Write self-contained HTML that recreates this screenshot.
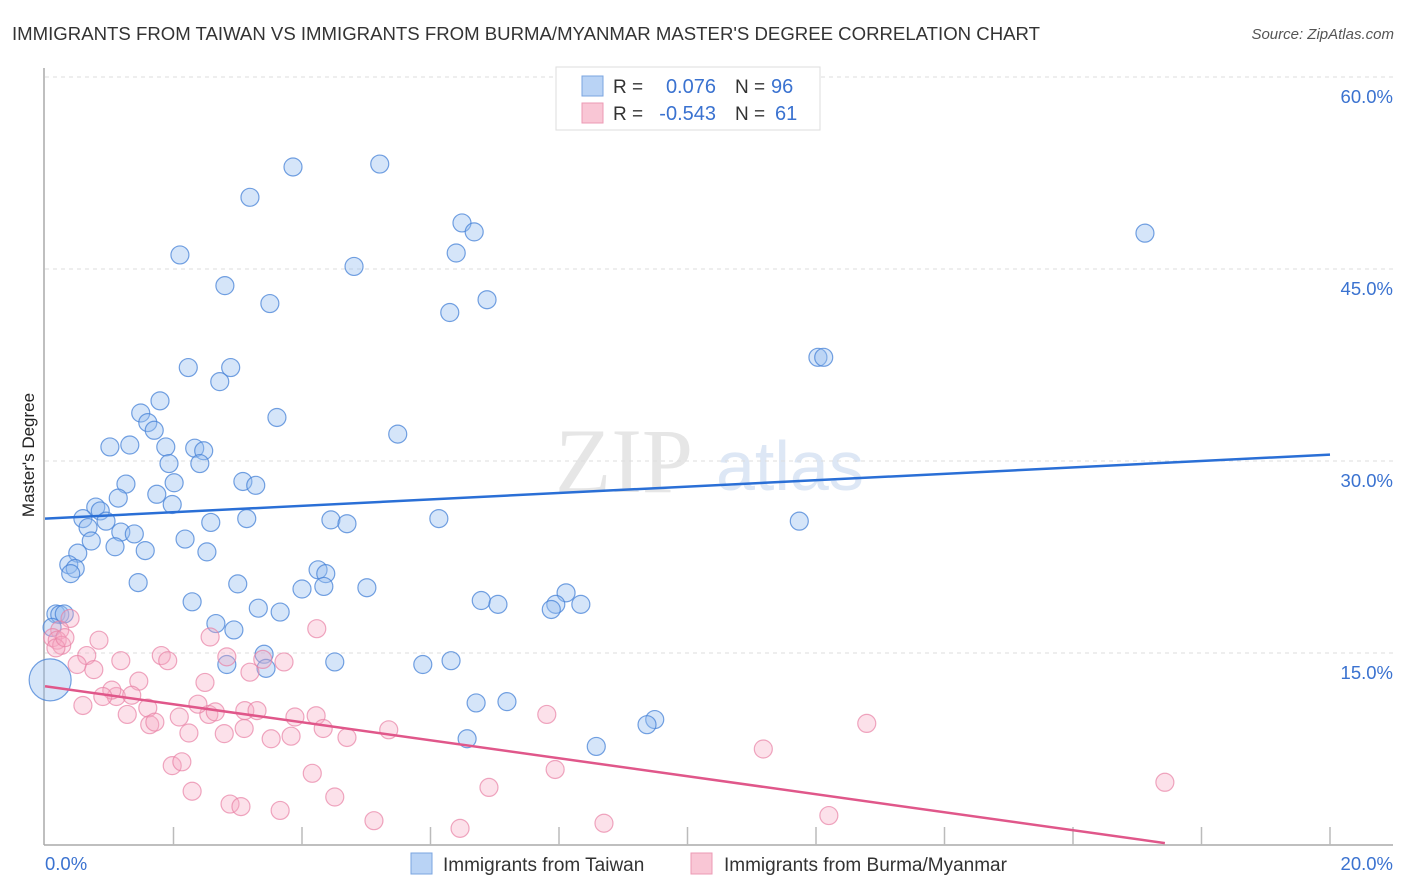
<!DOCTYPE html>
<html><head><meta charset="utf-8"><style>
body{margin:0;background:#fff;font-family:"Liberation Sans",sans-serif;}
#wrap{position:relative;width:1406px;height:892px;overflow:hidden;}
</style></head><body>
<div id="wrap">
<svg id="chart" width="1406" height="892" xmlns="http://www.w3.org/2000/svg">
<text x="12" y="40" font-size="18.6" fill="#333">IMMIGRANTS FROM TAIWAN VS IMMIGRANTS FROM BURMA/MYANMAR MASTER'S DEGREE CORRELATION CHART</text>
<text x="1394" y="39" font-size="15" fill="#555" font-style="italic" text-anchor="end">Source: ZipAtlas.com</text>
<text x="34" y="455" font-size="17" fill="#222" text-anchor="middle" transform="rotate(-90 34 455)">Master's Degree</text>
<g><text x="555" y="492" font-size="92" fill="#e6e6e6" font-family="Liberation Serif,serif">ZIP</text><text x="716" y="490" font-size="70" fill="#dde7f5">atlas</text></g>
<g id="grid"></g><g id="axes"></g><g id="pts"></g><g id="trend"></g>
<g>
<rect x="556" y="67" width="264" height="63" fill="#fff" stroke="#ddd"/>
<rect x="582" y="76" width="21" height="20" fill="#b9d3f5" stroke="#7aa5e0"/>
<rect x="582" y="103" width="21" height="20" fill="#f9c6d5" stroke="#ec9ab4"/>
<text x="613" y="93" font-size="19" fill="#333">R =</text><text x="716" y="93" font-size="20" fill="#3a72d0" text-anchor="end">0.076</text>
<text x="735" y="93" font-size="19" fill="#333">N =</text><text x="771" y="93" font-size="20" fill="#3a72d0">96</text>
<text x="613" y="120" font-size="19" fill="#333">R =</text><text x="716" y="120" font-size="20" fill="#3a72d0" text-anchor="end">-0.543</text>
<text x="735" y="120" font-size="19" fill="#333">N =</text><text x="775" y="120" font-size="20" fill="#3a72d0">61</text>
</g>
<g>
<rect x="411" y="853" width="21" height="21" fill="#b9d3f5" stroke="#7aa5e0"/>
<text x="443" y="871" font-size="19" fill="#333">Immigrants from Taiwan</text>
<rect x="691" y="853" width="21" height="21" fill="#f9c6d5" stroke="#ec9ab4"/>
<text x="724" y="871" font-size="19" fill="#333">Immigrants from Burma/Myanmar</text>
</g>
</svg>
</div>
<script>
const yTicks=[15,30,45,60];
const yTickLabels=["15.0%","30.0%","45.0%","60.0%"];
const xTickLabels=["0.0%","20.0%"];
const taiwanX=[3.86,5.21,3.19,6.49,6.68,17.12,2.10,6.40,4.81,2.80,3.50,6.88,6.30,12.03,12.12,2.23,2.89,2.72,1.79,1.49,3.61,1.60,1.70,5.49,1.01,1.32,1.88,2.33,2.47,1.93,2.41,3.08,3.28,1.26,2.01,1.14,1.74,1.98,0.79,0.86,0.59,0.95,3.14,2.58,4.45,4.70,6.13,11.74,0.67,1.18,1.39,0.72,2.18,1.09,1.56,2.52,0.51,0.37,0.47,0.40,3.00,4.25,4.37,1.45,4.00,4.34,5.01,2.29,3.32,3.66,6.79,7.05,8.11,7.95,7.88,8.34,2.66,2.94,0.17,0.23,0.30,3.41,2.83,3.44,4.51,5.88,6.32,6.71,7.19,9.49,9.37,6.57,8.58,0.11,0.08];
const taiwanY=[52.97,53.2,50.6,48.6,47.9,47.8,46.1,46.25,45.2,43.7,42.3,42.6,41.6,38.1,38.1,37.3,37.3,36.2,34.7,33.75,33.4,33.0,32.4,32.1,31.1,31.25,31.1,31.0,30.8,29.8,29.8,28.4,28.1,28.2,28.3,27.1,27.4,26.6,26.4,26.1,25.5,25.3,25.5,25.2,25.4,25.1,25.5,25.3,24.8,24.45,24.3,23.75,23.9,23.3,23.0,22.9,22.8,21.9,21.6,21.2,20.4,21.5,21.2,20.5,20.0,20.2,20.1,19.0,18.5,18.2,19.1,18.8,19.7,18.8,18.4,18.8,17.3,16.8,18.05,18.0,18.05,14.9,14.1,13.8,14.3,14.1,14.4,11.1,11.2,9.8,9.4,8.3,7.7,17.0,12.9];
const burmaX=[0.39,0.23,0.12,0.19,0.26,0.17,0.31,0.84,0.65,1.18,1.81,1.91,2.83,3.72,3.39,0.50,0.76,1.11,1.46,1.04,1.35,0.90,0.59,1.28,1.60,2.09,1.63,1.71,2.24,2.55,2.65,2.38,3.11,3.30,3.89,4.22,4.33,4.70,5.35,2.79,3.10,3.52,3.83,1.98,2.13,2.29,2.88,3.05,3.66,4.16,4.51,5.12,6.46,6.91,7.94,8.70,7.81,11.18,12.79,17.43,12.20,2.57,4.23,2.49,3.19];
const burmaY=[17.7,16.8,16.2,16.0,15.6,15.4,16.2,16.0,14.8,14.4,14.8,14.4,14.7,14.3,14.5,14.1,13.7,11.6,12.8,12.1,11.7,11.6,10.9,10.2,10.7,10.0,9.4,9.6,8.75,10.2,10.4,11.0,10.5,10.5,10.0,10.1,9.1,8.4,9.0,8.7,9.1,8.3,8.5,6.2,6.5,4.2,3.2,3.0,2.7,5.6,3.75,1.9,1.3,4.5,5.9,1.7,10.2,7.5,9.5,4.9,2.3,16.25,16.9,12.7,13.5];
const taiwanTrend=[25.5,30.5];
const burmaTrend=[12.4,0.15];
const burmaTrendEndX=17.43;
const NS="http://www.w3.org/2000/svg";
const X=v=>45+v*64.25, Y=v=>845-v*12.8;
function mk(t,a,p){const e=document.createElementNS(NS,t);for(const k in a)e.setAttribute(k,a[k]);p.appendChild(e);return e;}
const grid=document.getElementById('grid'),axes=document.getElementById('axes'),pts=document.getElementById('pts'),tr=document.getElementById('trend');
yTicks.forEach((t,i)=>{
 const l=mk('line',{x1:45,x2:1393,y1:Y(t),y2:Y(t),stroke:'#ddd','stroke-dasharray':'4,4'},grid);
 
 
 const tx=mk('text',{x:1393,y:Y(t)+26,'font-size':18.5,fill:'#3a72d0','text-anchor':'end'},axes);
 tx.textContent=yTickLabels[i];
 
 
});
const yl=mk('line',{x1:44,x2:44,y1:68,y2:845,stroke:'#aaa','stroke-width':1.5},axes);


const xl=mk('line',{x1:44,x2:1393,y1:845,y2:845,stroke:'#aaa','stroke-width':1.5},axes);


for(let i=1;i<=10;i++){const t=mk('line',{x1:X(i*2),x2:X(i*2),y1:827,y2:845,stroke:'#bbb','stroke-width':1.5},axes);
 
 }
[[0,'start',45],[20,'end',1393]].forEach((d,i)=>{const t=mk('text',{x:d[2],y:870,'font-size':18.5,fill:'#3a72d0','text-anchor':d[1]},axes);t.textContent=xTickLabels[i];
 
 });
taiwanX.forEach((x,i)=>{const big=i===taiwanX.length-1;
 const c=mk('circle',{cx:X(x),cy:Y(taiwanY[i]),r:big?21:9,fill:'rgba(150,190,240,0.4)',stroke:'rgba(70,130,215,0.75)','stroke-width':1.2},pts);
 
 });
burmaX.forEach((x,i)=>{
 const c=mk('circle',{cx:X(x),cy:Y(burmaY[i]),r:9,fill:'rgba(245,170,195,0.35)',stroke:'rgba(232,130,165,0.7)','stroke-width':1.2},pts);
 
 });
const t1=mk('line',{x1:X(0),y1:Y(taiwanTrend[0]),x2:X(20),y2:Y(taiwanTrend[1]),stroke:'#2a6fd6','stroke-width':2.5},tr);


const t2=mk('line',{x1:X(0),y1:Y(burmaTrend[0]),x2:X(burmaTrendEndX),y2:Y(burmaTrend[1]),stroke:'#e0578a','stroke-width':2.5},tr);


</script>
</body></html>
